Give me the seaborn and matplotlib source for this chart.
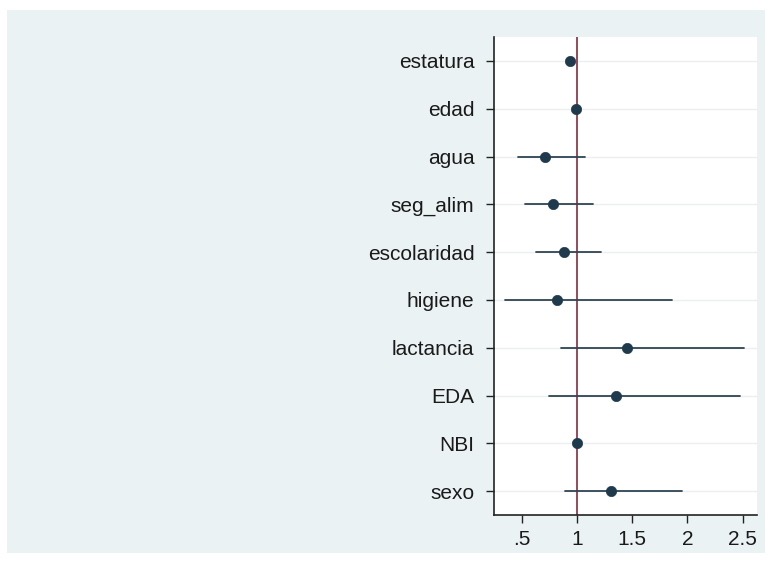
import matplotlib
matplotlib.use("Agg")
import matplotlib.pyplot as plt
import seaborn as sns
import pandas as pd
from matplotlib.patches import Rectangle

variables = ["estatura", "edad", "agua", "seg_alim", "escolaridad",
             "higiene", "lactancia", "EDA", "NBI", "sexo"]
estimate = [0.94, 0.99, 0.71, 0.78, 0.88, 0.82, 1.455, 1.35, 1.005, 1.31]
ci_low = [0.93, 0.985, 0.47, 0.53, 0.63, 0.35, 0.86, 0.75, 1.0, 0.89]
ci_high = [0.95, 0.995, 1.07, 1.15, 1.22, 1.86, 2.51, 2.48, 1.01, 1.95]
xtick_values = [0.5, 1, 1.5, 2, 2.5]
xtick_labels = [".5", "1", "1.5", "2", "2.5"]

df = pd.DataFrame({"variable": variables, "estimate": estimate,
                   "low": ci_low, "high": ci_high})

sns.set_style("white")
plt.rcParams["font.family"] = ["Liberation Sans", "DejaVu Sans"]

fig = plt.figure(figsize=(7.71, 5.63), dpi=100, facecolor="white")
fig.patches.append(Rectangle((7 / 771, 1 - 553 / 563), (765 - 7) / 771, (553 - 10) / 563,
                             transform=fig.transFigure, facecolor="#EAF2F3",
                             edgecolor="none", zorder=-10))
ax = fig.add_axes([494 / 771, 1 - 515 / 563, (757 - 494) / 771, (515 - 37) / 563])
ax.set_zorder(5)
ax.set_facecolor("white")

ypos = list(range(len(variables)))
for i, row in df.iterrows():
    ax.axhline(i, color="#ECEFEF", lw=1.0, zorder=0)
    ax.plot([row["low"], row["high"]], [i, i], color="#2E4552", lw=1.3, zorder=2)

ax.axvline(1, color="#8E3B4C", lw=1.3, zorder=1)

sns.scatterplot(data=df, x="estimate", y="variable", ax=ax, color="#1E3A4C",
                s=55, edgecolor="#1E3A4C", linewidth=0.5, zorder=3, legend=False)

ax.set_xlim(0.25, 2.63)
ax.set_ylim(len(variables) - 0.5, -0.5)
ax.set_xticks(xtick_values)
ax.set_xticklabels(xtick_labels)
ax.set_yticks(ypos)
ax.set_yticklabels(variables)
ax.set_xlabel("")
ax.set_ylabel("")

for s in ["top", "right"]:
    ax.spines[s].set_visible(False)
for s in ["left", "bottom"]:
    ax.spines[s].set_color("#222222")
    ax.spines[s].set_linewidth(1.2)

ax.tick_params(axis="both", which="both", direction="out", length=6, width=1.0,
               color="#222222", labelsize=15, labelcolor="#1a1a1a", pad=5)
ax.tick_params(axis="y", length=6, pad=8)
ax.tick_params(left=True, bottom=True)

fig.savefig("out.png", dpi=100, facecolor="white")
